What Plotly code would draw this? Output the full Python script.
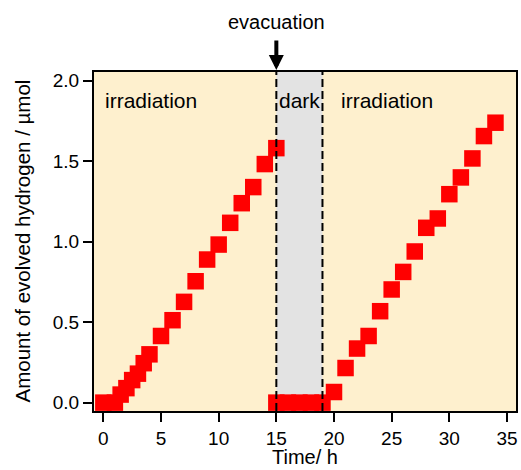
import plotly.graph_objects as go

# ---- data ----
t_before = [0, 1, 1.5, 2, 2.5, 3, 3.5, 4, 5, 6, 7, 8, 9, 10, 11, 12, 13, 14, 15]
h2_before = [0, 0, 0.05, 0.09, 0.14, 0.18, 0.245, 0.30, 0.414, 0.512, 0.626, 0.754,
             0.889, 0.982, 1.117, 1.239, 1.339, 1.482, 1.581]
t_dark = [15, 16, 17, 18, 19]
h2_dark = [0, 0, 0, 0, 0]
t_after = [20, 21, 22, 23, 24, 25, 26, 27, 28, 29, 30, 31, 32, 33, 34]
h2_after = [0.066, 0.215, 0.336, 0.414, 0.568, 0.703, 0.812, 0.939, 1.086, 1.144,
            1.295, 1.399, 1.517, 1.656, 1.739]

x_ticks = [0, 5, 10, 15, 20, 25, 30, 35]
y_ticks = [0.0, 0.5, 1.0, 1.5, 2.0]
y_ticklabels = ["0.0", "0.5", "1.0", "1.5", "2.0"]
dark_start, dark_end = 15, 19

FONT = "Liberation Sans, Arial, Helvetica, sans-serif"
RED = "#FF0000"

fig = go.Figure()
for xs, ys in [(t_before, h2_before), (t_dark, h2_dark), (t_after, h2_after)]:
    fig.add_trace(go.Scatter(x=xs, y=ys, mode="markers",
                             marker=dict(symbol="square", size=16.5, color=RED, line=dict(width=0)),
                             showlegend=False, cliponaxis=False))

# dark region
fig.add_shape(type="rect", xref="x", yref="paper", x0=dark_start, x1=dark_end, y0=0, y1=1,
              fillcolor="#E3E3E3", line=dict(width=0), layer="below")
for xv in (dark_start, dark_end):
    fig.add_shape(type="line", xref="x", yref="paper", x0=xv, x1=xv, y0=0, y1=1,
                  line=dict(color="black", width=2, dash="8px,4px"), layer="above")

# labels
lab_font = dict(family=FONT, size=21, color="black")
fig.add_annotation(x=0.0, y=1.88, xref="x", yref="y", text="irradiation", showarrow=False,
                   xanchor="left", yanchor="middle", font=lab_font)
fig.add_annotation(x=15.1, y=1.88, xref="x", yref="y", text="dark", showarrow=False,
                   xanchor="left", yanchor="middle", font=lab_font)
fig.add_annotation(x=20.45, y=1.88, xref="x", yref="y", text="irradiation", showarrow=False,
                   xanchor="left", yanchor="middle", font=lab_font)

# evacuation arrow
fig.add_annotation(x=dark_start, y=1.006, xref="x", yref="paper", text="", showarrow=True,
                   ax=0, ay=-31, arrowhead=2, arrowwidth=4, arrowsize=0.75,
                   arrowcolor="black", standoff=0)
fig.add_annotation(x=dark_start, y=1, xref="x", yref="paper", text="evacuation", showarrow=False,
                   xanchor="center", yanchor="middle", yshift=50,
                   font=dict(family=FONT, size=20, color="black"))

# axis titles
fig.add_annotation(x=0.5, y=0, xref="paper", yref="paper", text="Time/ h", showarrow=False,
                   xanchor="center", yanchor="bottom", yshift=-58.5,
                   font=dict(family=FONT, size=20, color="black"))
fig.add_annotation(x=0, y=0.5, xref="paper", yref="paper", text="Amount of evolved hydrogen / µmol",
                   showarrow=False, textangle=-90, xanchor="center", yanchor="middle", xshift=-72,
                   font=dict(family=FONT, size=20.5, color="black"))

fig.update_xaxes(range=[-0.81, 35.78], tickvals=x_ticks, ticks="outside", ticklen=9, tickwidth=2,
                 tickcolor="black", showline=True, linewidth=2, linecolor="black", mirror=True,
                 showgrid=False, zeroline=False, tickfont=dict(family=FONT, size=19, color="black"))
fig.update_yaxes(range=[-0.052, 2.054], tickvals=y_ticks, ticktext=y_ticklabels, ticks="outside",
                 ticklen=9, tickwidth=2, tickcolor="black", showline=True, linewidth=2,
                 linecolor="black", mirror=True, showgrid=False, zeroline=False,
                 tickfont=dict(family=FONT, size=19, color="black"))

fig.update_layout(width=521, height=470, margin=dict(l=94, r=5, t=72, b=59, autoexpand=False),
                  plot_bgcolor="#FEF0CE", paper_bgcolor="white", showlegend=False)

fig.write_html("out.html")
